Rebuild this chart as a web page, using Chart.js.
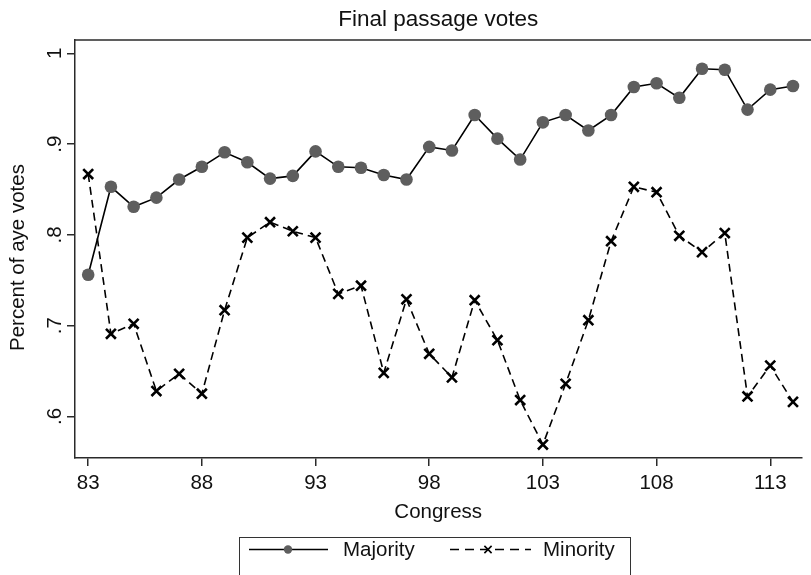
<!DOCTYPE html>
<html>
<head>
<meta charset="utf-8">
<script src="https://cdn.jsdelivr.net/npm/chart.js@4.4.1/dist/chart.umd.min.js"></script>
<style>
  html, body { margin: 0; padding: 0; background: #fff; overflow: hidden; }
  #wrap { width: 811px; height: 575px; }
</style>
</head>
<body>
<div id="wrap"><canvas id="c" width="811" height="575"></canvas></div>
<script>
const congress = [83,84,85,86,87,88,89,90,91,92,93,94,95,96,97,98,99,100,101,102,103,104,105,106,107,108,109,110,111,112,113,114];
const majority = [0.756,0.853,0.831,0.841,0.861,0.875,0.891,0.880,0.862,0.865,0.892,0.875,0.874,0.866,0.861,0.897,0.893,0.932,0.906,0.883,0.924,0.932,0.915,0.932,0.963,0.967,0.951,0.983,0.982,0.938,0.960,0.964];
const minority = [0.867,0.691,0.702,0.628,0.647,0.625,0.717,0.797,0.814,0.804,0.797,0.735,0.744,0.648,0.729,0.669,0.643,0.728,0.684,0.618,0.569,0.636,0.706,0.793,0.853,0.847,0.799,0.781,0.802,0.622,0.656,0.616];
const xTicks = [83,88,93,98,103,108,113];
const yTicks = [0.6,0.7,0.8,0.9,1];
const seriesNames = ['Majority','Minority'];
const titleText = 'Final passage votes';
const xTitle = 'Congress';
const yTitle = 'Percent of aye votes';

Chart.defaults.font.family = '"Liberation Sans", Arial, Helvetica, sans-serif';
Chart.defaults.color = '#111';

const AX = '#2a2a2a';

const frameAndLegend = {
  id: 'frameAndLegend',
  afterDraw(chart) {
    const ctx = chart.ctx;
    const a = chart.chartArea;
    ctx.save();
    // top frame line
    ctx.strokeStyle = AX;
    ctx.lineWidth = 1.5;
    ctx.beginPath();
    ctx.moveTo(a.left, a.top);
    ctx.lineTo(chart.width, a.top);
    ctx.stroke();

    // legend box
    const bx = 239.5, by = 537.5, bw = 391, bh = 60;
    ctx.lineWidth = 1;
    ctx.strokeStyle = '#333';
    ctx.strokeRect(bx, by, bw, bh);
    const ly = 549.5;
    const ds = chart.data.datasets;
    // majority sample
    ctx.setLineDash([]);
    ctx.strokeStyle = ds[0].borderColor;
    ctx.lineWidth = 1.5;
    ctx.beginPath(); ctx.moveTo(249, ly); ctx.lineTo(328, ly); ctx.stroke();
    ctx.fillStyle = ds[0].pointBackgroundColor;
    ctx.beginPath(); ctx.arc(288, ly, 4.2, 0, Math.PI * 2); ctx.fill();
    // minority sample
    ctx.setLineDash([9, 6]);
    ctx.strokeStyle = ds[1].borderColor;
    ctx.beginPath(); ctx.moveTo(450, ly); ctx.lineTo(531, ly); ctx.stroke();
    ctx.setLineDash([]);
    ctx.lineWidth = 1.6;
    const cx = 488, r = 3.6;
    ctx.beginPath();
    ctx.moveTo(cx - r, ly - r); ctx.lineTo(cx + r, ly + r);
    ctx.moveTo(cx - r, ly + r); ctx.lineTo(cx + r, ly - r);
    ctx.stroke();
    // texts
    ctx.fillStyle = '#111';
    ctx.font = '20.5px "Liberation Sans", Arial, sans-serif';
    ctx.textBaseline = 'middle';
    ctx.textAlign = 'left';
    ctx.fillText(ds[0].label, 343, ly + 1);
    ctx.fillText(ds[1].label, 543, ly + 1);
    ctx.restore();
  }
};

new Chart(document.getElementById('c'), {
  type: 'line',
  data: {
    datasets: [
      {
        label: seriesNames[0],
        data: congress.map((c, i) => ({ x: c, y: majority[i] })),
        borderColor: '#000',
        borderWidth: 1.6,
        pointStyle: 'circle',
        pointRadius: 6.3,
        pointBackgroundColor: '#5e5e5e',
        pointBorderColor: '#5e5e5e',
        pointBorderWidth: 0,
        tension: 0,
        fill: false,
        order: 2
      },
      {
        label: seriesNames[1],
        data: congress.map((c, i) => ({ x: c, y: minority[i] })),
        borderColor: '#000',
        borderWidth: 1.6,
        borderDash: [8, 5],
        pointStyle: 'crossRot',
        pointRadius: 7,
        pointBorderColor: '#000',
        pointBackgroundColor: '#000',
        pointBorderWidth: 2.6,
        tension: 0,
        fill: false,
        order: 1
      }
    ]
  },
  options: {
    responsive: false,
    animation: false,
    devicePixelRatio: 1,
    layout: { padding: { left: 0, right: 0, top: 0, bottom: 50 } },
    plugins: {
      legend: { display: false },
      tooltip: { enabled: false },
      title: {
        display: true,
        fullSize: false,
        text: titleText,
        color: '#111',
        font: { size: 22.5, weight: 'normal' },
        padding: { top: 6.5, bottom: 6.5 }
      }
    },
    scales: {
      x: {
        type: 'linear',
        min: 82.42,
        max: 114.37,
        afterBuildTicks: s => { s.ticks = xTicks.map(v => ({ value: v })); },
        afterFit: s => { s.height = 67; },
        ticks: { font: { size: 20.5 }, color: '#111', padding: 5, maxRotation: 0, autoSkip: false },
        grid: { drawOnChartArea: false, drawTicks: true, tickLength: 8, color: AX, lineWidth: 1.5 },
        border: { display: true, color: AX, width: 1.5 },
        title: { display: true, text: xTitle, color: '#111', font: { size: 20.5 }, padding: { top: 0, bottom: 0 } }
      },
      y: {
        type: 'linear',
        min: 0.5542,
        max: 1.0147,
        afterBuildTicks: s => { s.ticks = yTicks.map(v => ({ value: v })); },
        afterFit: s => { s.width = 75; },
        ticks: {
          font: { size: 20.5 }, color: '#111', padding: 3,
          minRotation: 90, maxRotation: 90, crossAlign: 'center',
          callback: v => String(v).replace(/^0\./, '.')
        },
        grid: { drawOnChartArea: false, drawTicks: true, tickLength: 8, color: AX, lineWidth: 1.5 },
        border: { display: true, color: AX, width: 1.5 },
        title: { display: true, text: yTitle + '   ', color: '#111', font: { size: 20.5 }, padding: { top: 6, bottom: 0 } }
      }
    }
  },
  plugins: [frameAndLegend]
});
</script>
</body>
</html>
